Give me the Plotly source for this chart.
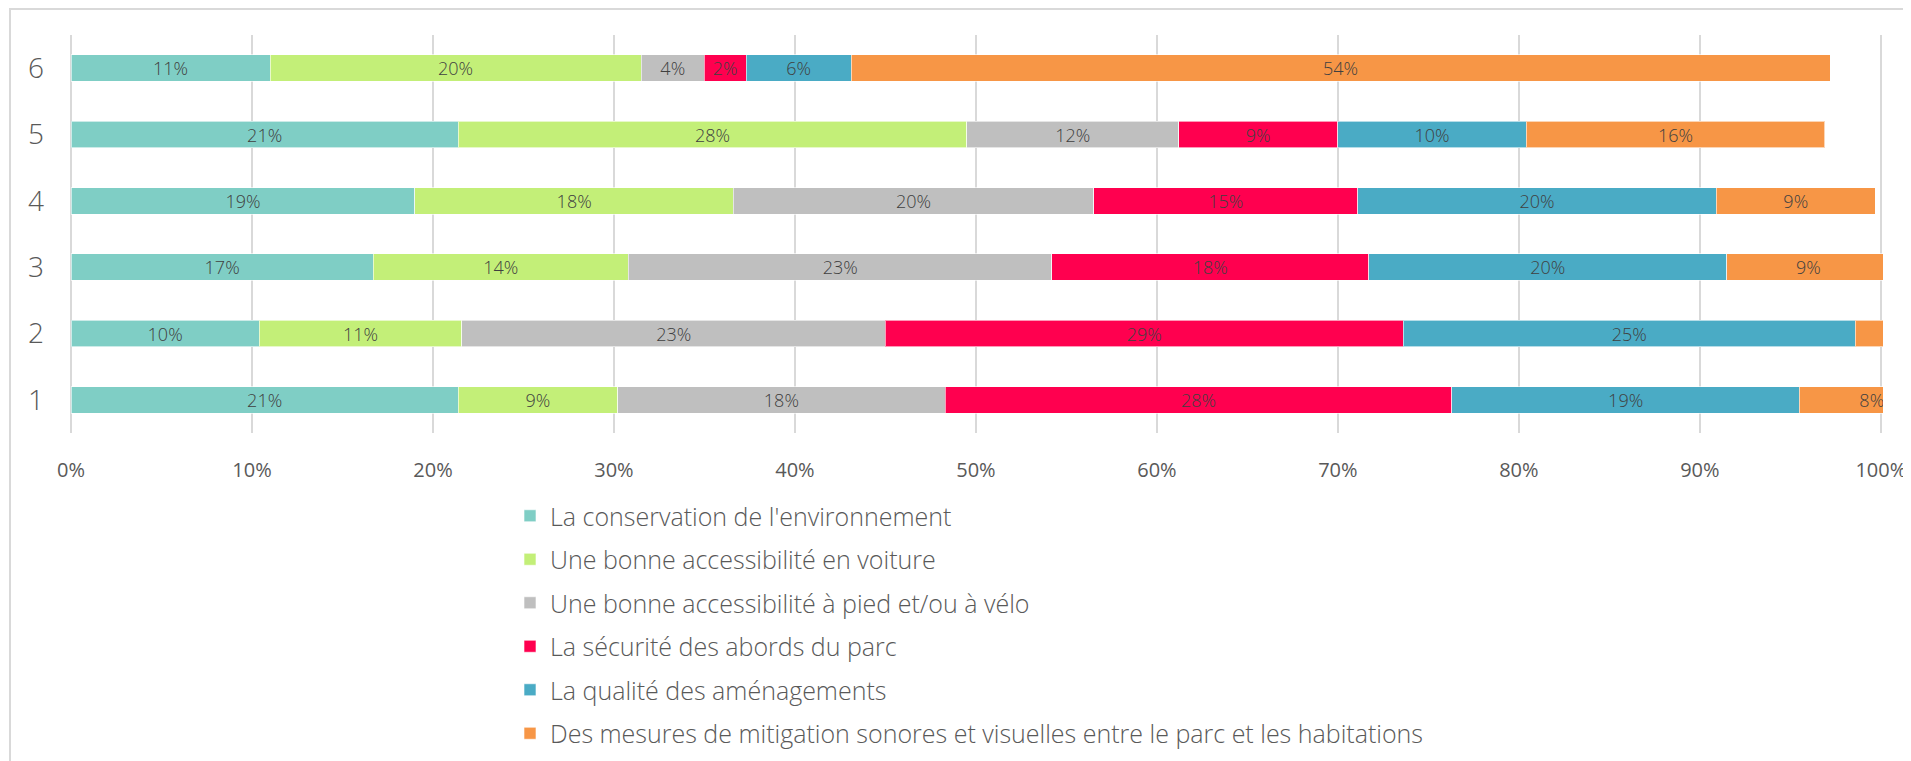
"""Stacked horizontal bar chart: park priorities by rank."""

import plotly.graph_objects as go

# Ranks (bottom to top) and the share of each answer per rank, in %
rows = ["1", "2", "3", "4", "5", "6"]

conservation = [21.4, 10.4, 16.7, 19.0, 21.4, 11.0]
voiture = [8.8, 11.2, 14.1, 17.6, 28.1, 20.5]
pied_velo = [18.1, 23.4, 23.4, 19.9, 11.7, 3.5]
securite = [28.0, 28.6, 17.5, 14.6, 8.8, 2.3]
amenagements = [19.2, 25.0, 19.8, 19.8, 10.4, 5.8]
mitigation = [8.0, 3.0, 9.0, 8.8, 16.5, 54.1]

conservation_lbl = ["21%", "10%", "17%", "19%", "21%", "11%"]
voiture_lbl = ["9%", "11%", "14%", "18%", "28%", "20%"]
pied_velo_lbl = ["18%", "23%", "23%", "20%", "12%", "4%"]
securite_lbl = ["28%", "29%", "18%", "15%", "9%", "2%"]
amenagements_lbl = ["19%", "25%", "20%", "20%", "10%", "6%"]
mitigation_lbl = ["8%", "", "9%", "9%", "16%", "54%"]

x_ticks = [0, 10, 20, 30, 40, 50, 60, 70, 80, 90, 100]
x_tick_text = [f"{v}%" for v in x_ticks]

series = [
    ("La conservation de l'environnement", conservation, conservation_lbl, "#7FCEC5"),
    ("Une bonne accessibilité en voiture", voiture, voiture_lbl, "#C3EF78"),
    ("Une bonne accessibilité à pied et/ou à vélo", pied_velo, pied_velo_lbl, "#BFBFBF"),
    ("La sécurité des abords du parc", securite, securite_lbl, "#FF004F"),
    ("La qualité des aménagements", amenagements, amenagements_lbl, "#4AABC5"),
    ("Des mesures de mitigation sonores et visuelles entre le parc et les habitations",
     mitigation, mitigation_lbl, "#F79646"),
]

# page body has an 8px margin, so the figure is made that much smaller
OFF = 8
W, H = 1911 - OFF, 761 - OFF
L, R, T, B = 71 - OFF, 28, 35 - OFF, 328
PW, PH = W - L - R, H - T - B

FONT = "Open Sans"
GREY = "#595959"

fig = go.Figure()
for i, (name, vals, lbls, color) in enumerate(series):
    fig.add_trace(
        go.Bar(
            x=vals,
            y=rows,
            name=name,
            orientation="h",
            legendgroup=f"g{i}",
            marker=dict(color=color, line=dict(color="rgba(255,255,255,0.6)", width=1)),
            text=lbls,
            textposition="inside",
            insidetextanchor="middle",
            textangle=0,
            constraintext="none",
            textfont=dict(family=FONT, size=18, color="#404040", weight=300),
            hoverinfo="skip",
        )
    )

# light chart-area frame (left and top edges are visible)
fig.add_shape(
    type="rect",
    xref="paper",
    yref="paper",
    x0=(2 - L) / PW,
    x1=(W + 5 - L) / PW,
    y0=(H - B - (H + 5)) / PH,
    y1=(H - B - 1) / PH,
    line=dict(color="#D9D9D9", width=2),
    fillcolor="rgba(0,0,0,0)",
    layer="below",
)

fig.update_layout(
    width=W,
    height=H,
    barmode="stack",
    bargap=0.6,
    paper_bgcolor="white",
    plot_bgcolor="white",
    font=dict(family=FONT, color=GREY),
    margin=dict(l=L, r=R, t=T, b=B, autoexpand=False),
    xaxis=dict(
        range=[0, 100.12],
        tickvals=x_ticks,
        ticktext=x_tick_text,
        showgrid=True,
        gridcolor="#D9D9D9",
        gridwidth=2,
        zeroline=True,
        zerolinecolor="#D9D9D9",
        zerolinewidth=2,
        showline=False,
        ticks="",
        ticklabelstandoff=23,
        tickfont=dict(family=FONT, size=20, color=GREY),
    ),
    yaxis=dict(
        categoryorder="array",
        categoryarray=rows,
        showgrid=False,
        zeroline=False,
        showline=False,
        ticks="",
        ticklabelstandoff=26,
        tickfont=dict(family=FONT, size=28, color=GREY, weight=300),
    ),
    showlegend=True,
    legend=dict(
        orientation="v",
        traceorder="grouped",
        tracegroupgap=8,
        x=(510 - OFF - L) / PW,
        xanchor="left",
        y=(H - B - (493 - OFF)) / PH,
        yanchor="top",
        font=dict(family=FONT, size=25, color=GREY, weight=300),
        bgcolor="rgba(0,0,0,0)",
        itemclick=False,
    ),
)

fig.write_html("out.html")
